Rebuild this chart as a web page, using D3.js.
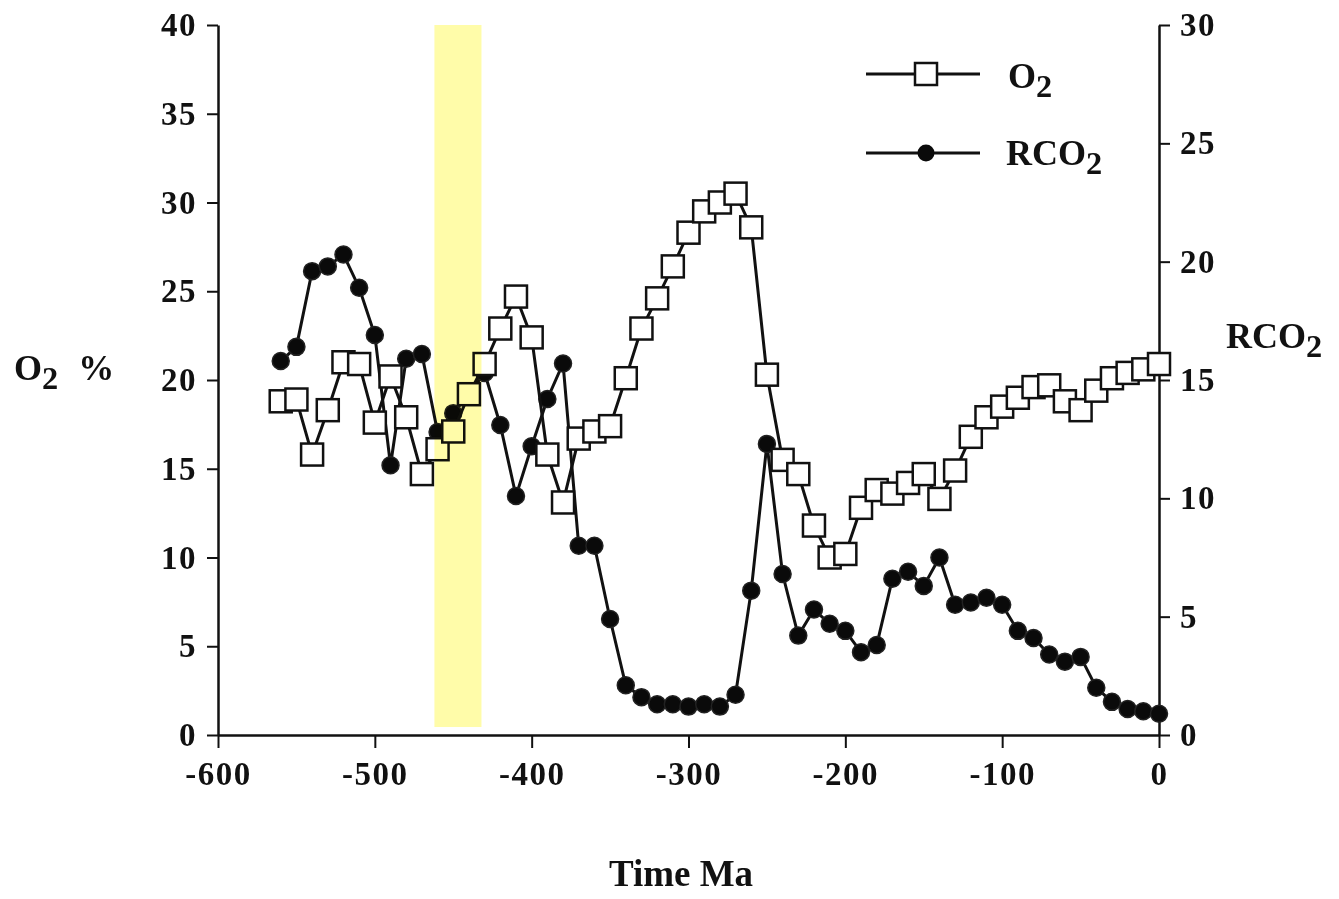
<!DOCTYPE html>
<html>
<head>
<meta charset="utf-8">
<script src="https://cdn.jsdelivr.net/npm/d3@7"></script>
<style>
  body { margin: 0; background: #fff; }
  text { font-family: "Liberation Serif", "DejaVu Serif", serif; font-weight: bold; fill: #111; }
</style>
</head>
<body>
<script>
/* Data */
const times = d3.range(-560, 1, 10);
const o2 = [18.8, 18.9, 15.8, 18.3, 21.0, 20.9, 17.6, 20.2, 17.9, 14.7,
  16.1, 17.1, 19.2, 20.9, 22.9, 24.7, 22.4, 15.8, 13.1, 16.7,
  17.1, 17.4, 20.1, 22.9, 24.6, 26.4, 28.3, 29.5, 30.0, 30.5,
  28.6, 20.3, 15.5, 14.7, 11.8, 10.0, 10.2, 12.8, 13.8, 13.6,
  14.2, 14.7, 13.3, 14.9, 16.8, 17.9, 18.5, 19.0, 19.6, 19.7,
  18.8, 18.3, 19.4, 20.1, 20.4, 20.6, 20.9];
const rco2 = [15.8, 16.4, 19.6, 19.8, 20.3, 18.9, 16.9, 11.4, 15.9, 16.1,
  12.8, 13.6, 14.4, 15.3, 13.1, 10.1, 12.2, 14.2, 15.7, 8.0,
  8.0, 4.9, 2.1, 1.6, 1.3, 1.3, 1.2, 1.3, 1.2, 1.7,
  6.1, 12.3, 6.8, 4.2, 5.3, 4.7, 4.4, 3.5, 3.8, 6.6,
  6.9, 6.3, 7.5, 5.5, 5.6, 5.8, 5.5, 4.4, 4.1, 3.4,
  3.1, 3.3, 2.0, 1.4, 1.1, 1.0, 0.9];
const xTicks = [-600, -500, -400, -300, -200, -100, 0];
const leftTicks = [0, 5, 10, 15, 20, 25, 30, 35, 40];
const rightTicks = [0, 5, 10, 15, 20, 25, 30];
const band = [-462, -432];

/* Layout */
const W = 1339, H = 899;
const svg = d3.select("body").append("svg").attr("width", W).attr("height", H);

const x = d3.scaleLinear().domain([-600, 0]).range([218, 1159]);
const yL = d3.scaleLinear().domain([0, 40]).range([735, 25]);
const yR = d3.scaleLinear().domain([0, 30]).range([735, 25]);

/* Axes */
const fmt = d => String(d); // plain hyphen, like the original
const axisStyle = g => {
  g.selectAll("path.domain").attr("stroke", "#111").attr("stroke-width", 2.5);
  g.selectAll(".tick line").attr("stroke", "#111").attr("stroke-width", 2);
  g.selectAll(".tick text").style("font-size", "33px").style("letter-spacing", "1.5px");
};

svg.append("g")
  .attr("transform", "translate(0,735)")
  .call(d3.axisBottom(x).tickValues(xTicks).tickFormat(fmt).tickSize(13).tickSizeOuter(0).tickPadding(14))
  .call(axisStyle);

svg.append("g")
  .attr("transform", "translate(218,0)")
  .call(d3.axisLeft(yL).tickValues(leftTicks).tickFormat(fmt).tickSize(11).tickSizeOuter(0).tickPadding(10))
  .call(axisStyle);

svg.append("g")
  .attr("transform", "translate(1159,0)")
  .call(d3.axisRight(yR).tickValues(rightTicks).tickFormat(fmt).tickSize(11).tickSizeOuter(0).tickPadding(10))
  .call(axisStyle);

/* RCO2 series */
const lineR = d3.line().x((d, i) => x(times[i])).y(d => yR(d));
svg.append("path").datum(rco2)
  .attr("d", lineR).attr("fill", "none").attr("stroke", "#111").attr("stroke-width", 3);
svg.selectAll(".dot").data(rco2).enter().append("circle")
  .attr("class", "dot")
  .attr("cx", (d, i) => x(times[i]))
  .attr("cy", d => yR(d))
  .attr("r", 8.5)
  .attr("fill", "#0a0a0a").attr("stroke", "#222").attr("stroke-width", 1.5);

/* O2 series */
const lineO = d3.line().x((d, i) => x(times[i])).y(d => yL(d));
svg.append("path").datum(o2)
  .attr("d", lineO).attr("fill", "none").attr("stroke", "#111").attr("stroke-width", 3);
svg.selectAll(".sq").data(o2).enter().append("rect")
  .attr("class", "sq")
  .attr("x", (d, i) => x(times[i]) - 11)
  .attr("y", d => yL(d) - 11)
  .attr("width", 22).attr("height", 22)
  .attr("fill", "#fff").attr("stroke", "#111").attr("stroke-width", 2.5);

/* Yellow band on top */
svg.append("rect")
  .attr("x", x(band[0]))
  .attr("y", yL(40))
  .attr("width", x(band[1]) - x(band[0]))
  .attr("height", yL(0.45) - yL(40))
  .attr("fill", "rgb(255,252,160)")
  .style("mix-blend-mode", "multiply")
  .attr("opacity", 0.9);

/* Legend */
const legend = svg.append("g");
legend.append("line").attr("x1", 866).attr("x2", 980).attr("y1", 74).attr("y2", 74)
  .attr("stroke", "#111").attr("stroke-width", 3);
legend.append("rect").attr("x", 915).attr("y", 63).attr("width", 22).attr("height", 22)
  .attr("fill", "#fff").attr("stroke", "#111").attr("stroke-width", 2.5);
legend.append("line").attr("x1", 866).attr("x2", 980).attr("y1", 153).attr("y2", 153)
  .attr("stroke", "#111").attr("stroke-width", 3);
legend.append("circle").attr("cx", 926).attr("cy", 153).attr("r", 8.5)
  .attr("fill", "#0a0a0a");

const sub = (sel, base, s) => {
  sel.append("tspan").text(base);
  sel.append("tspan").attr("dy", 9).style("font-size", "0.9em").text(s);
};
legend.append("text").attr("x", 1008).attr("y", 88).style("font-size", "36px")
  .call(sub, "O", "2");
legend.append("text").attr("x", 1006).attr("y", 165).style("font-size", "36px")
  .call(sub, "RCO", "2");

/* Axis titles */
const t1 = svg.append("text").attr("x", 14).attr("y", 380).style("font-size", "36px");
t1.append("tspan").text("O");
t1.append("tspan").attr("dy", 9).style("font-size", "0.9em").text("2");
t1.append("tspan").attr("dy", -9).attr("dx", 20).text("%");

svg.append("text").attr("x", 1226).attr("y", 348).style("font-size", "36px")
  .call(sub, "RCO", "2");

svg.append("text").attr("x", 681).attr("y", 886).attr("text-anchor", "middle")
  .style("font-size", "37px").text("Time Ma");
</script>
</body>
</html>
